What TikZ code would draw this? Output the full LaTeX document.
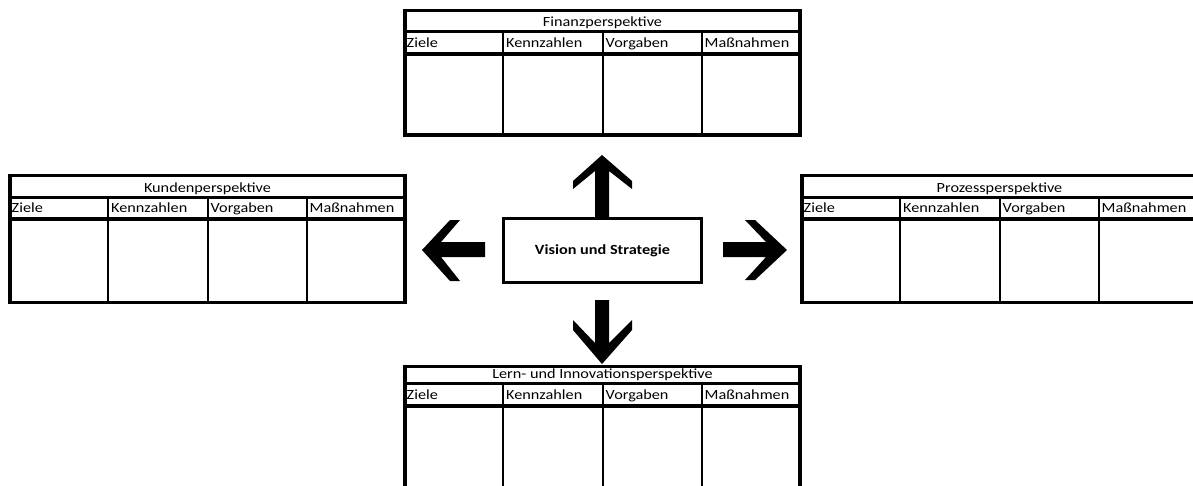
\documentclass[tikz,border=0pt]{standalone}
\usepackage{fontspec}
\setmainfont{Carlito}[FakeStretch=1.16]
\newcommand{\bsctable}[7]{% #1 name, #2 x0, #3 ytop, #4 ytitle-sep, #5 header-sep, #6 ybottom, #7 title
  \draw[coldiv] (#2+98,#4) -- (#2+98,#6);
  \draw[coldiv] (#2+197.5,#4) -- (#2+197.5,#6);
  \draw[coldiv] (#2+296.5,#4) -- (#2+296.5,#6);
  \draw[tsep] (#2,#4) -- (#2+395,#4);
  \draw[hsep] (#2,#5) -- (#2+395,#5);
  \draw[frame] (#2,#3) rectangle (#2+395,#6);
  \node[ttl] (#1-title) at (#2+197.5,#4-5) {#7};
  \node[hdr] (#1-h1) at (#2+1.5,#5-6.5) {Ziele};
  \node[hdr] (#1-h2) at (#2+101,#5-6.5) {Kennzahlen};
  \node[hdr] (#1-h3) at (#2+200.5,#5-6.5) {Vorgaben};
  \node[hdr] (#1-h4) at (#2+299.5,#5-6.5) {Maßnahmen};
}
\begin{document}
\begin{tikzpicture}[x=1pt,y=-1pt,
  frame/.style={line width=3.4pt},
  tsep/.style={line width=3pt},
  hsep/.style={line width=3.8pt},
  coldiv/.style={line width=2pt},
  ttl/.style={anchor=base,inner sep=0pt,font=\fontsize{14pt}{16pt}\selectfont},
  hdr/.style={anchor=base west,inner sep=0pt,font=\fontsize{14pt}{16pt}\selectfont},
  centerbox/.style={draw,line width=3pt,minimum width=198pt,minimum height=64pt,inner sep=0pt,
    font=\fontsize{14pt}{16pt}\selectfont\bfseries},
  blockarrow/.style={fill=black,draw=none}]
\useasboundingbox (0,0) rectangle (1193,485);
\fill[white] (0,0) rectangle (1193,485);
\clip (0,0) rectangle (1193,485);

% four perspective tables
\bsctable{fin}{405}{10.5}{31.5}{54}{135}{Finanzperspektive}
\bsctable{kun}{10}{175.5}{197}{219}{302.5}{Kundenperspektive}
\bsctable{pro}{802}{175.5}{197}{219}{302.5}{Prozessperspektive}
\bsctable{lern}{405}{366.7}{383}{406}{500}{Lern- und Innovationsperspektive}

% centre
\node[centerbox] (vs) at (602.5,250.5) {Vision und Strategie};

% block arrows
\fill[blockarrow] (595,219) -- (595,171) -- (573,189) -- (573,181) -- (602,155)
  -- (632,181) -- (632,189) -- (609,171) -- (609,219) -- cycle;
\fill[blockarrow] (595,300) -- (595,343) -- (573,320) -- (573,330) -- (602,364)
  -- (632,330) -- (632,320) -- (609,343) -- (609,300) -- cycle;
\fill[blockarrow] (485,242) -- (441,242) -- (460,220) -- (450,220) -- (422,250)
  -- (450,281) -- (460,281) -- (441,257) -- (485,257) -- cycle;
\fill[blockarrow] (723,242) -- (766,242) -- (745,220) -- (755,220) -- (787,250)
  -- (755,280) -- (745,280) -- (766,257) -- (723,257) -- cycle;
\end{tikzpicture}
\end{document}
